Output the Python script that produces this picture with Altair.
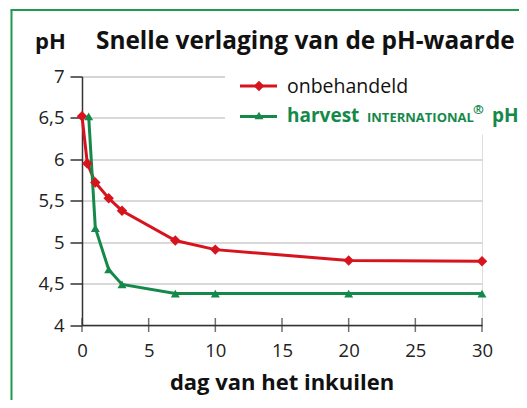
import altair as alt
import pandas as pd

# ---- data ----
days_red = [0, 0.4, 1, 2, 3, 7, 10, 20, 30]
ph_red = [6.52, 5.95, 5.72, 5.53, 5.38, 5.02, 4.91, 4.78, 4.77]
days_green = [0, 0.5, 1, 2, 3, 7, 10, 20, 30]
ph_green = [6.52, 6.52, 5.17, 4.67, 4.49, 4.38, 4.38, 4.38, 4.38]
x_ticks = [0, 5, 10, 15, 20, 25, 30]
y_ticks = [4, 4.5, 5, 5.5, 6, 6.5, 7]
series = ["onbehandeld", "harvest"]

RED = "#d7141e"
GREEN = "#15894a"
FONT = "Open Sans"

# the green series in the reference starts at day 0.5 only
df_red = pd.DataFrame({"dag": days_red, "ph": ph_red})
df_green = pd.DataFrame({"dag": days_green[1:], "ph": ph_green[1:]})

xs = alt.Scale(domain=[0, 30], nice=False)
ys = alt.Scale(domain=[4, 7], nice=False, zero=False)

LBL = "replace(format(datum.value, '~g'), '.', ',')"

xax = alt.Axis(values=x_ticks, ticks=False, grid=False, labelFontSize=18.5,
               labelFont=FONT, labelColor="#222", labelPadding=16, labelFlush=False,
               labelExpr=LBL, domainColor="#333", domainWidth=1.5, title=None)
yax = alt.Axis(values=y_ticks, grid=True, gridColor="#cccccc", gridWidth=1.5,
               tickSize=12, tickColor="#333", tickWidth=1.5, domainColor="#333",
               domainWidth=1.5, labelFontSize=18.5, labelFont=FONT, labelColor="#222",
               labelPadding=6, labelFlush=False, labelExpr=LBL, title=None)

base_axes = alt.Chart(df_red).mark_line(opacity=0).encode(
    x=alt.X("dag:Q", scale=xs, axis=xax),
    y=alt.Y("ph:Q", scale=ys, axis=yax),
)

# white box behind legend (hides gridlines like the reference)
legend_bg = alt.Chart(pd.DataFrame({"s": ["bg"]})).mark_rect(color="white").encode(
    x=alt.value(143), x2=alt.value(402), y=alt.value(-6), y2=alt.value(58)
)

xtick_df = pd.DataFrame({"dag": x_ticks, "ph": [4] * len(x_ticks)})
xticks_layer = alt.Chart(xtick_df).mark_tick(
    orient="vertical", size=14, thickness=1.5, color="#333"
).encode(x=alt.X("dag:Q", scale=xs), y=alt.Y("ph:Q", scale=ys))

red_line = alt.Chart(df_red).mark_line(color=RED, strokeWidth=3).encode(
    x=alt.X("dag:Q", scale=xs), y=alt.Y("ph:Q", scale=ys))
red_pts = alt.Chart(df_red).mark_point(shape="diamond", filled=True, size=110,
                                       color=RED, opacity=1).encode(
    x=alt.X("dag:Q", scale=xs), y=alt.Y("ph:Q", scale=ys))
green_line = alt.Chart(df_green).mark_line(color=GREEN, strokeWidth=3).encode(
    x=alt.X("dag:Q", scale=xs), y=alt.Y("ph:Q", scale=ys))
green_pts = alt.Chart(df_green).mark_point(shape="triangle-up", filled=True, size=80,
                                           color=GREEN, opacity=1).encode(
    x=alt.X("dag:Q", scale=xs), y=alt.Y("ph:Q", scale=ys))

one = pd.DataFrame({"s": ["x"]})

def txt(t, x, y, size, color="#111", weight="bold", align="left", baseline="alphabetic"):
    return alt.Chart(one).mark_text(
        text=t, font=FONT, fontSize=size, fontWeight=weight, color=color,
        align=align, baseline=baseline
    ).encode(x=alt.value(x), y=alt.value(y))

# legend
leg_red_line = alt.Chart(one).mark_rule(color=RED, strokeWidth=3).encode(
    x=alt.value(158), x2=alt.value(195), y=alt.value(9.5))
leg_red_pt = alt.Chart(one).mark_point(shape="diamond", filled=True, size=110,
                                       color=RED, opacity=1).encode(
    x=alt.value(177), y=alt.value(9.5))
leg_green_line = alt.Chart(one).mark_rule(color=GREEN, strokeWidth=3).encode(
    x=alt.value(158), x2=alt.value(195), y=alt.value(40))
leg_green_pt = alt.Chart(one).mark_point(shape="triangle-up", filled=True, size=80,
                                         color=GREEN, opacity=1).encode(
    x=alt.value(177), y=alt.value(39))

texts = [
    txt("pH", -47, -27.5, 22),
    txt("Snelle verlaging van de pH-waarde", 14, -27.5, 24.4),
    txt(series[0], 205, 16, 19.5, weight="normal"),
    txt(series[1], 205, 45.2, 19, color=GREEN),
    txt("INTERNATIONAL", 285, 45.2, 13, color=GREEN),
    txt("®", 391, 37, 13, color=GREEN),
    txt("pH", 410, 45.2, 19, color=GREEN),
    txt("dag van het inkuilen", 200, 313.5, 22, align="center"),
]

border_left = alt.Chart(one).mark_rule(color="#1f9a50", strokeWidth=2).encode(
    x=alt.value(-70.5), y=alt.value(-66.5), y2=alt.value(340))
border_top = alt.Chart(one).mark_rule(color="#1f9a50", strokeWidth=2).encode(
    x=alt.value(-71.5), x2=alt.value(450), y=alt.value(-66.5))

chart = alt.layer(
    base_axes, legend_bg, xticks_layer, red_line, green_line, red_pts, green_pts,
    leg_red_line, leg_red_pt, leg_green_line, leg_green_pt,
    border_left, border_top, *texts
).properties(
    width=400, height=248.5,
    autosize=alt.AutoSizeParams(type="none"),
    padding={"left": 74, "top": 68.5, "right": 37, "bottom": 75},
).configure_view(stroke=None).configure(background="white")

chart.save("out.html", embed_options={"renderer": "svg", "actions": False})
